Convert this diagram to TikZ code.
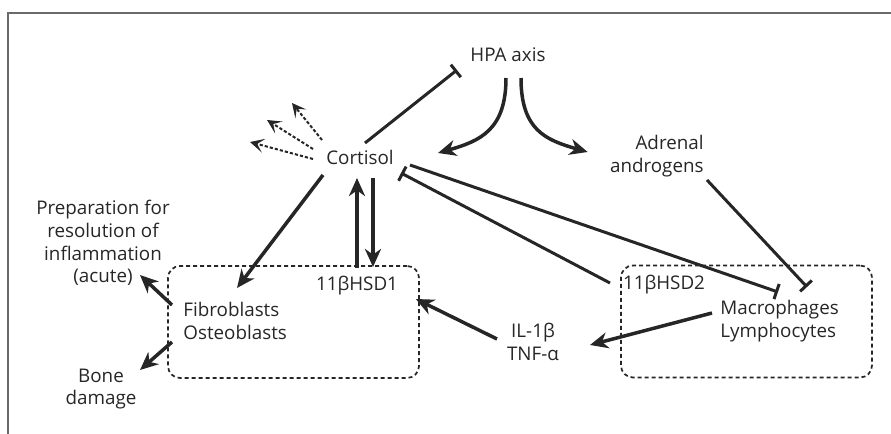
\documentclass[tikz,border=0pt]{standalone}
\usepackage{fontspec}
\setmainfont{Open Sans}
\usetikzlibrary{arrows.meta,calc}

\definecolor{ink}{HTML}{262626}
\definecolor{framegray}{HTML}{6A6A6A}

\tikzset{
  lbl/.style={inner sep=1pt, text=ink, align=center, font=\fontsize{9.4}{11.3}\selectfont},
  cellbox/.style={draw=ink, line width=0.85pt, dash pattern=on 2pt off 1.5pt, rounded corners=6pt,
    minimum width=125.5pt, minimum height=56pt, inner sep=0pt},
  act/.style={draw=ink, line width=1.75pt, -{Stealth[length=9pt, width=8pt, inset=2.8pt]}},
  inh/.style={draw=ink, line width=1.5pt, -{Bar[width=8pt, line width=1.5pt]}},
  weak/.style={draw=ink, line width=1pt, dash pattern=on 1.6pt off 1pt,
    -{Stealth[length=7pt, width=7pt, inset=3.3pt]}},
}

\begin{document}
\begin{tikzpicture}[x=0.5pt, y=-0.5pt]

    \useasboundingbox (0,0) rectangle (891,434);

    % Frame
    \draw[framegray, line width=1pt] (8,434) -- (8,12.5) -- (891,12.5);

    % Dashed cell boxes
    \node (box1) [cellbox] at (293.5,322) {};
    \node (box2) [cellbox] at (746.5,321.5) {};

    % Top level
    \node (hpa) [lbl] at (508,55) {HPA axis};
    \node (cort) [lbl] at (360,157) {Cortisol};
    \node (andr) [lbl, align=right, anchor=east] at (706,156) {Adrenal\\androgens};

    % Left side
    \node (prep) [lbl] at (103,243) {Preparation for\\resolution of\\inflammation\\(acute)};
    \node (bone) [lbl] at (101,389) {Bone\\damage};
    \node (fib) [lbl, align=left, anchor=west] at (181,321) {Fibroblasts\\Osteoblasts};
    \node (hsd1) [lbl] at (357,286) {11βHSD1};

    % Right side
    \node (il) [lbl] at (533,342) {IL-1β\\TNF-α};
    \node (hsd2) [lbl] at (664,285) {11βHSD2};
    \node (mac) [lbl, align=left, anchor=west] at (718,321) {Macrophages\\Lymphocytes};

    % HPA axis and cortisol
    \draw[inh] ($(cort)+(5,-14)$) -- ($(hpa)+(-51,15)$);
    \draw[act] ($(hpa)+(-2,23)$) .. controls +(0,52) and +(42,-12) .. ($(cort)+(78,-4)$);
    \draw[act] ($(hpa)+(13,23)$) .. controls +(0,52) and +(-42,-12) .. ($(andr.west)+(-20,-4)$);

    % Other effects of cortisol
    \draw[weak] ($(cort)+(-38,-17)$) -- ($(cort)+(-68,-54)$);
    \draw[weak] ($(cort)+(-47,-8)$) -- ($(cort)+(-93,-37)$);
    \draw[weak] ($(cort)+(-47,2)$) -- ($(cort)+(-110,-15)$);

    % Cortisol and 11bHSD1
    \draw[act] ($(cort)+(-37,18)$) -- ($(fib.west)+(56,-33)$);
    \draw[act] ($(hsd1)+(0,-18)$) -- ($(cort)+(-3,21)$);
    \draw[act] ($(cort)+(13,21)$) -- ($(hsd1)+(16,-19)$);

    % Inhibition from the right
    \draw[inh] ($(hsd2)+(-54,-2)$) -- ($(cort)+(41,16)$);
    \draw[inh] ($(cort)+(50,8)$) -- ($(mac.west)+(60,-29)$);
    \draw[inh] ($(andr.east)+(1,24)$) -- ($(mac.west)+(89,-34)$);

    % Cytokines
    \draw[act] ($(mac.west)+(-6,-8)$) -- ($(il)+(57,3)$);
    \draw[act] ($(il)+(-36,-3)$) -- ($(box1.east)+(-4,-23)$);

    % Outcomes
    \draw[act] ($(fib.west)+(-9,-16)$) -- ($(prep)+(37,32)$);
    \draw[act] ($(fib.west)+(-9,21)$) -- ($(bone)+(39,-19)$);

\end{tikzpicture}
\end{document}
